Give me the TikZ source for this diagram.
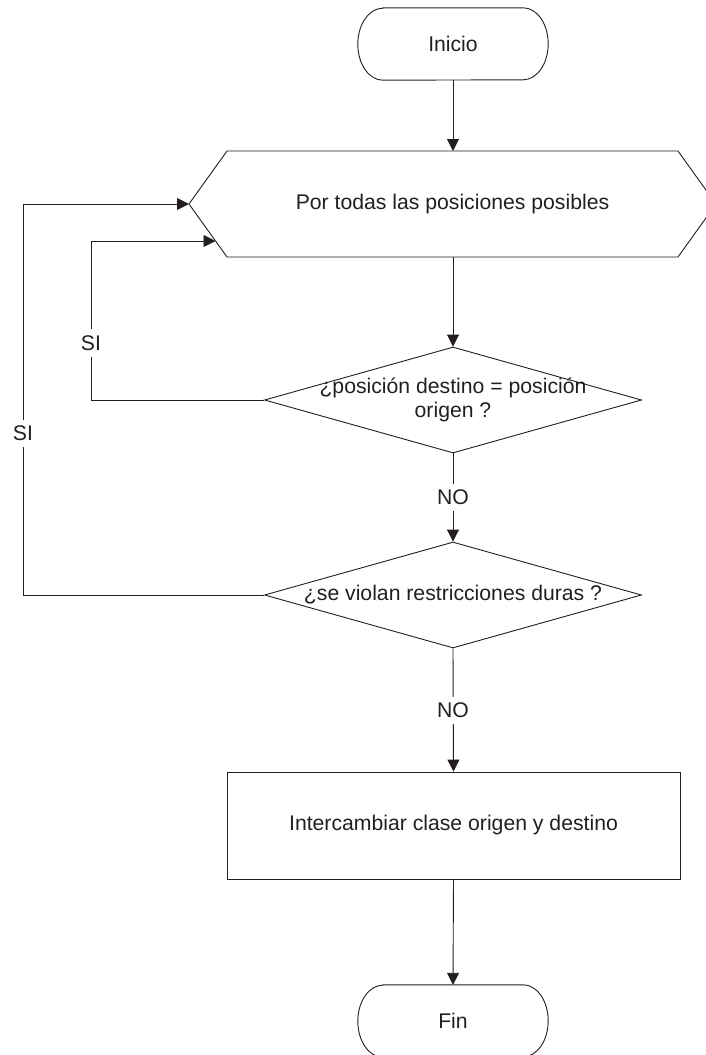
\documentclass[tikz,border=0pt]{standalone}
\usepackage{fontspec}
\setmainfont{Liberation Sans}
\usetikzlibrary{arrows.meta,shapes.geometric}
\definecolor{ink}{HTML}{231F20}
\begin{document}
\begin{tikzpicture}[x=1pt,y=-1pt,
  font=\fontsize{21.2}{24}\selectfont,
  every node/.style={text=ink},
  outline/.style={draw=ink,line width=0.9pt,line join=miter},
  flow/.style={outline,-{Triangle[length=12pt,width=12pt]}},
  plain/.style={inner sep=0pt,align=center},
  decision/.style={diamond,outline,inner sep=0pt,minimum width=377pt,minimum height=106pt},
  process/.style={rectangle,outline,inner sep=0pt,minimum width=453pt,minimum height=107pt},
  terminal/.style={rectangle,inner sep=0pt,minimum width=190pt,minimum height=72pt},
  tag/.style={fill=white,inner xsep=3pt,inner ysep=6pt}]
\useasboundingbox (0,0) rectangle (705,1055);

% start terminal
\node[terminal] (ini) at (453,44) {Inicio};
\draw[outline] ([xshift=25pt]ini.north west) -- ([xshift=-25pt]ini.north east)
  arc[start angle=90,end angle=-90,x radius=25pt,y radius=36pt]
  -- ([xshift=25pt]ini.south west)
  arc[start angle=270,end angle=90,x radius=25pt,y radius=36pt] -- cycle;

% loop hexagon
\coordinate (hexL) at (189,204);
\coordinate (hexIn) at (215.5,241);
\coordinate (hexTop) at (453,151);
\coordinate (hexBot) at (453,257);
\draw[outline] (hexL) -- (227,151) -- (678,151) -- (716,204) -- (678,257) -- (227,257) -- cycle;
\node[plain] (loop) at (452.5,204) {Por todas las posiciones posibles};

% decisions
\node[decision] (d1) at (453,400) {};
\node[plain] (d1t) at (453,400) {¿posición destino = posición\\origen ?};
\node[decision] (d2) at (453,595) {};
\node[plain] (d2t) at (453,595) {¿se violan restricciones duras ?};

% action
\node[process] (swap) at (453.5,825.5) {Intercambiar clase origen y destino};

% end terminal
\node[terminal] (fin) at (453,1021) {Fin};
\draw[outline] ([xshift=25pt]fin.north west) -- ([xshift=-25pt]fin.north east)
  arc[start angle=90,end angle=-90,x radius=25pt,y radius=36pt]
  -- ([xshift=25pt]fin.south west)
  arc[start angle=270,end angle=90,x radius=25pt,y radius=36pt] -- cycle;

% bends of the return paths
\coordinate (r1a) at (91,400);
\coordinate (r1b) at (91,241);
\coordinate (r2a) at (23,595);
\coordinate (r2b) at (23,204);

% connectors
\draw[flow] (ini.south) -- (hexTop);
\draw[flow] (hexBot) -- (d1.north);
\draw[flow] (d1.west) -- (r1a) -- (r1b) -- (hexIn);
\draw[flow] (d2.west) -- (r2a) -- (r2b) -- (hexL);
\draw[flow] (d1.south) -- (d2.north);
\draw[flow] (d2.south) -- (swap.north);
\draw[flow] (swap.south) -- (fin.north);

% branch labels
\node[tag] (si1) at (91,343) {SI};
\node[tag] (si2) at (23,433) {SI};
\node[tag] (no1) at (453,497) {NO};
\node[tag] (no2) at (453,710) {NO};
\end{tikzpicture}
\end{document}
